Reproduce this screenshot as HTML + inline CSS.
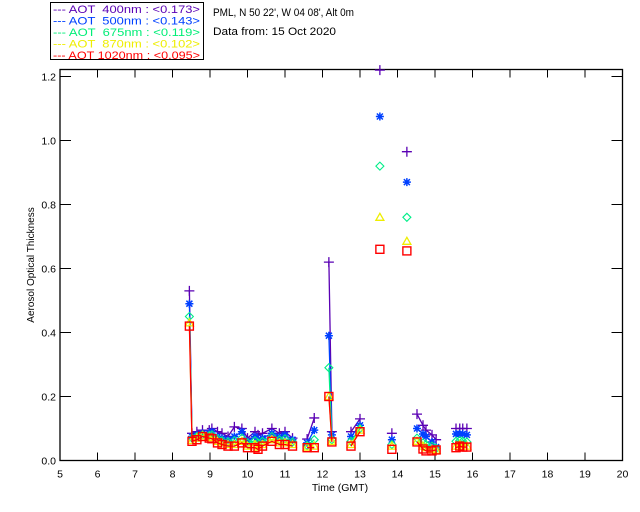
<!DOCTYPE html>
<html><head><meta charset="utf-8">
<style>
html,body{margin:0;padding:0;background:#fff;}
svg{display:block;font-family:"Liberation Sans","DejaVu Sans",sans-serif;}
</style></head>
<body>
<svg id="chart" width="640" height="512" viewBox="0 0 640 512" xmlns="http://www.w3.org/2000/svg">
<rect x="0" y="0" width="640" height="512" fill="#fff"/>
<g>
<rect x="50.5" y="2.5" width="153" height="57" fill="#fff" stroke="#000" stroke-width="1"/>
<text x="53" y="13" font-size="11" fill="#5a00b4" xml:space="preserve" textLength="147" lengthAdjust="spacingAndGlyphs">--- AOT  400nm : &lt;0.173&gt;</text>
<text x="53" y="24.5" font-size="11" fill="#0040ff" xml:space="preserve" textLength="147" lengthAdjust="spacingAndGlyphs">--- AOT  500nm : &lt;0.143&gt;</text>
<text x="53" y="36" font-size="11" fill="#00ee77" xml:space="preserve" textLength="147" lengthAdjust="spacingAndGlyphs">--- AOT  675nm : &lt;0.119&gt;</text>
<text x="53" y="47.5" font-size="11" fill="#eeee00" xml:space="preserve" textLength="147" lengthAdjust="spacingAndGlyphs">--- AOT  870nm : &lt;0.102&gt;</text>
<text x="53" y="59" font-size="11" fill="#ff0000" xml:space="preserve" textLength="147" lengthAdjust="spacingAndGlyphs">--- AOT 1020nm : &lt;0.095&gt;</text>
</g>
<text x="213" y="16" font-size="11" fill="#000" textLength="141" lengthAdjust="spacingAndGlyphs">PML, N 50 22', W 04 08', Alt 0m</text>
<text x="213" y="35" font-size="11" fill="#000" textLength="123" lengthAdjust="spacingAndGlyphs">Data from: 15 Oct 2020</text>
<g id="axes"></g>
<g id="marks"></g>
<text x="340" y="491" font-size="10.5" text-anchor="middle" fill="#000">Time (GMT)</text>
<text transform="translate(34,265) rotate(-90)" font-size="10" text-anchor="middle" fill="#000">Aerosol Optical Thickness</text>
</svg>
<script>
const xTicks = [5,6,7,8,9,10,11,12,13,14,15,16,17,18,19,20];
const yTicks = [0.0,0.2,0.4,0.6,0.8,1.0,1.2];
const yTickLabels = ["0.0","0.2","0.4","0.6","0.8","1.0","1.2"];
const times = [8.45,8.52,8.65,8.8,8.98,9.05,9.2,9.32,9.48,9.65,9.85,10.0,10.2,10.28,10.4,10.65,10.85,11.0,11.2,
 11.59,11.78, 12.17,12.25, 12.76,13.0, 13.53, 13.85, 14.25,
 14.52,14.68,14.76,14.92,15.03, 15.56,15.66,15.74,15.85];
const segments = [0,0,0,0,0,0,0,0,0,0,0,0,0,0,0,0,0,0,0, 1,1, 2,2, 3,3, 4, 5, 6, 7,7,7,7,7, 8,8,8,8];
const aot400 = [0.53,0.085,0.09,0.095,0.095,0.1,0.09,0.085,0.075,0.105,0.1,0.07,0.09,0.08,0.085,0.1,0.085,0.09,0.07,
 0.067,0.133, 0.62,0.09, 0.09,0.13, 1.22, 0.085, 0.965, 0.145,0.11,0.095,0.08,0.065, 0.1,0.1,0.1,0.1];
const aot500 = [0.49,0.075,0.08,0.085,0.085,0.09,0.075,0.07,0.065,0.075,0.09,0.06,0.075,0.065,0.07,0.085,0.075,0.08,0.065,
 0.055,0.095, 0.39,0.08, 0.075,0.11, 1.075, 0.065, 0.87, 0.1,0.083,0.075,0.058,0.042, 0.083,0.083,0.083,0.08];
const aot675 = [0.45,0.07,0.075,0.08,0.078,0.08,0.068,0.062,0.058,0.062,0.07,0.055,0.062,0.055,0.06,0.075,0.065,0.068,0.058,
 0.047,0.065, 0.29,0.065, 0.06,0.1, 0.92, 0.05, 0.76, 0.07,0.055,0.05,0.045,0.038, 0.06,0.062,0.06,0.058];
const aot870 = [0.43,0.063,0.07,0.077,0.072,0.072,0.06,0.055,0.05,0.05,0.06,0.045,0.05,0.042,0.05,0.065,0.055,0.055,0.05,
 0.042,0.045, 0.2,0.06, 0.05,0.095, 0.76, 0.045, 0.685, 0.06,0.045,0.04,0.035,0.032, 0.045,0.05,0.045,0.045];
const aot1020 = [0.42,0.06,0.065,0.075,0.07,0.068,0.055,0.05,0.045,0.045,0.055,0.04,0.04,0.035,0.045,0.06,0.05,0.05,0.045,
 0.04,0.04, 0.2,0.058, 0.045,0.09, 0.66, 0.035, 0.655, 0.058,0.036,0.03,0.03,0.033, 0.04,0.045,0.042,0.042];

const NS="http://www.w3.org/2000/svg";
const X0=60, X1=622.5, Y0=460.5, Ytop=69.5;
function xs(h){return X0+(h-5)*(X1-X0)/15;}
function ys(v){return Y0-v*320;}
function mk(tag,attrs,parent){const e=document.createElementNS(NS,tag);for(const k in attrs)e.setAttribute(k,attrs[k]);parent.appendChild(e);return e;}
const axes=document.getElementById('axes');
const box=mk('rect',{x:X0,y:Ytop,width:X1-X0,height:Y0-Ytop,fill:'none',stroke:'#000','stroke-width':1.3},axes);


xTicks.forEach(t=>{
 const x=xs(t);
 const a=mk('line',{x1:x,x2:x,y1:Y0,y2:Y0-8,stroke:'#000','stroke-width':1},axes);
 
 
 const b=mk('line',{x1:x,x2:x,y1:Ytop,y2:Ytop+8,stroke:'#000','stroke-width':1},axes);
 
 
 const l=mk('text',{x:x,y:Y0+17,'font-size':10.5,'text-anchor':'middle',fill:'#000'},axes);
 l.textContent=String(t);
 
 
});
yTicks.forEach((t,i)=>{
 const y=ys(t);
 const a=mk('line',{x1:X0,x2:X0+11,y1:y,y2:y,stroke:'#000','stroke-width':1},axes);
 
 
 const b=mk('line',{x1:X1,x2:X1-11,y1:y,y2:y,stroke:'#000','stroke-width':1},axes);
 
 
 const l=mk('text',{x:X0-4,y:y+4,'font-size':10.5,'text-anchor':'end',fill:'#000'},axes);
 l.textContent=yTickLabels[i];
 
 
});
const marks=document.getElementById('marks');
const series=[
 {name:'aot-400',vals:aot400,color:'#5a00b4',m:'plus'},
 {name:'aot-500',vals:aot500,color:'#0040ff',m:'star'},
 {name:'aot-675',vals:aot675,color:'#00ee88',m:'diamond'},
 {name:'aot-870',vals:aot870,color:'#eeee00',m:'tri'},
 {name:'aot-1020',vals:aot1020,color:'#ff0000',m:'square'}
];
function clampY(v){return Math.max(Ytop,ys(v));}
series.forEach(s=>{
 const g=mk('g',{},marks);
 
 
 let d='';
 for(let i=0;i<times.length;i++){
  const cmd=(i>0&&segments[i]===segments[i-1])?'L':'M';
  d+=cmd+xs(times[i]).toFixed(1)+','+clampY(s.vals[i]).toFixed(1)+' ';
 }
 const p=mk('path',{d:d,fill:'none',stroke:s.color,'stroke-width':1.3},g);
 
 
 for(let i=0;i<times.length;i++){
  const x=xs(times[i]), y=clampY(s.vals[i]);
  let e;
  if(s.m==='plus'){
   e=mk('path',{d:`M${x-5},${y}H${x+5}M${x},${y-5}V${y+5}`,stroke:s.color,'stroke-width':1.3,fill:'none'},g);
  }else if(s.m==='star'){
   e=mk('path',{d:`M${x-4},${y}H${x+4}M${x},${y-4}V${y+4}M${x-3},${y-3}L${x+3},${y+3}M${x-3},${y+3}L${x+3},${y-3}`,stroke:s.color,'stroke-width':1.5,fill:'none'},g);
  }else if(s.m==='diamond'){
   e=mk('path',{d:`M${x},${y-4}L${x+4},${y}L${x},${y+4}L${x-4},${y}Z`,stroke:s.color,'stroke-width':1.1,fill:'none'},g);
  }else if(s.m==='tri'){
   e=mk('path',{d:`M${x},${y-4}L${x+4},${y+3}L${x-4},${y+3}Z`,stroke:s.color,'stroke-width':1.3,fill:'none'},g);
  }else{
   e=mk('rect',{x:x-4,y:y-4,width:8,height:8,stroke:s.color,'stroke-width':1.4,fill:'none'},g);
  }
  
  
 }
});
</script>
</body></html>
